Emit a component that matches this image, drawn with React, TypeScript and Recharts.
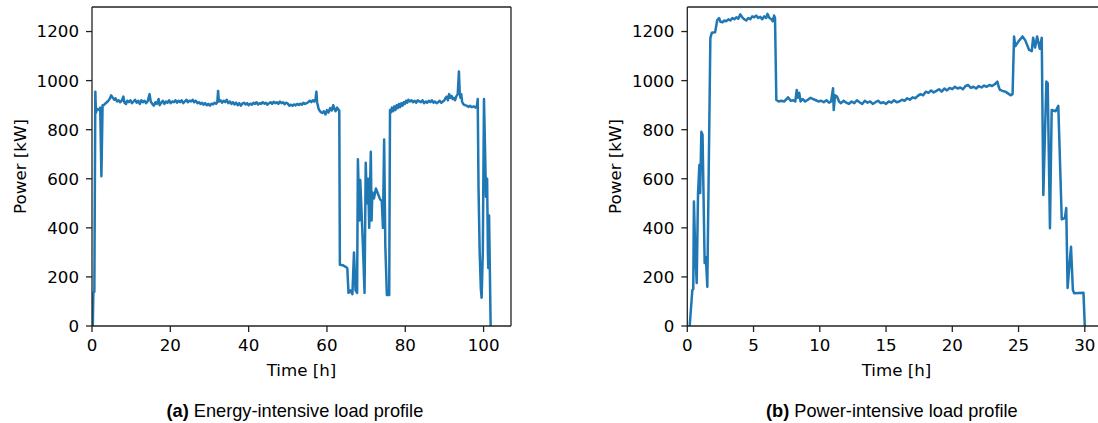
import { Line, LineChart, ReferenceLine, XAxis, YAxis } from "recharts";

// (a) energy-intensive profile: [hours, kW]
const energyProfile: [number, number][] = [
  [0.2, 0], [0.35, 135], [0.6, 140], [0.85, 955], [1.0, 870], [1.3, 885], [1.8, 880], [2.1, 890], [2.4, 610], [2.7, 900],
  [3.0, 900], [3.5, 908], [4.0, 915], [4.5, 925], [4.9, 940], [5.3, 930], [5.7, 922], [6.0, 928], [6.4, 915], [6.8, 920],
  [7.2, 912], [7.6, 918], [8.0, 935], [8.3, 910], [8.7, 905], [9.0, 918], [9.4, 912], [9.8, 920], [10.2, 908], [10.6, 915],
  [11.0, 922], [11.4, 910], [11.8, 918], [12.2, 905], [12.6, 920], [13.0, 912], [13.4, 918], [13.8, 908], [14.2, 915], [14.7, 945],
  [15.0, 915], [15.4, 905], [15.8, 898], [16.2, 912], [16.6, 905], [17.0, 925], [17.3, 900], [17.7, 910], [18.1, 918], [18.5, 905],
  [18.9, 915], [19.3, 910], [19.7, 920], [20.1, 908], [20.5, 915], [20.9, 912], [21.3, 920], [21.7, 910], [22.1, 918], [22.5, 912],
  [22.9, 920], [23.3, 908], [23.7, 915], [24.1, 922], [24.5, 912], [24.9, 918], [25.3, 915], [25.7, 922], [26.1, 912], [26.5, 918],
  [26.9, 908], [27.3, 912], [27.7, 905], [28.1, 910], [28.5, 902], [28.9, 908], [29.3, 900], [29.7, 905], [30.1, 898], [30.5, 906],
  [30.9, 903], [31.3, 910], [31.7, 906], [32.0, 912], [32.2, 958], [32.4, 915], [32.8, 920], [33.2, 910], [33.6, 918], [34.0, 912],
  [34.4, 922], [34.8, 908], [35.2, 915], [35.6, 905], [36.0, 912], [36.4, 903], [36.8, 910], [37.2, 900], [37.6, 908], [38.0, 898],
  [38.4, 906], [38.8, 910], [39.2, 903], [39.6, 908], [40.0, 900], [40.4, 906], [40.8, 902], [41.2, 910], [41.6, 905], [42.0, 912],
  [42.4, 903], [42.8, 908], [43.2, 905], [43.6, 912], [44.0, 906], [44.4, 910], [44.8, 902], [45.2, 908], [45.6, 912], [46.0, 905],
  [46.4, 914], [46.8, 908], [47.2, 912], [47.6, 905], [48.0, 915], [48.4, 908], [48.8, 912], [49.2, 904], [49.6, 910], [50.0, 906],
  [50.4, 898], [50.8, 902], [51.2, 897], [51.6, 903], [52.0, 899], [52.4, 905], [52.8, 901], [53.2, 906], [53.6, 902], [54.0, 910],
  [54.4, 905], [54.8, 908], [55.2, 912], [55.6, 918], [56.0, 912], [56.4, 920], [56.8, 915], [57.1, 925], [57.3, 955], [57.5, 910],
  [57.8, 890], [58.0, 880], [58.4, 872], [58.8, 868], [59.2, 875], [59.6, 862], [60.0, 880], [60.4, 870], [60.8, 888], [61.2, 878],
  [61.6, 900], [61.9, 885], [62.2, 875], [62.6, 890], [63.0, 880], [63.15, 878], [63.3, 250], [64.0, 248], [64.9, 240], [65.2, 236],
  [65.5, 135], [66.0, 145], [66.5, 130], [66.9, 300], [67.3, 145], [67.7, 135], [67.9, 680], [68.3, 430], [68.5, 595], [68.8, 480],
  [69.2, 320], [69.6, 135], [69.9, 665], [70.2, 500], [70.5, 600], [70.8, 400], [71.2, 710], [71.4, 430], [71.6, 545], [72.0, 520],
  [72.5, 560], [73.0, 540], [73.6, 515], [74.0, 510], [74.3, 400], [74.6, 760], [74.9, 330], [75.3, 126], [75.9, 126], [76.1, 880],
  [76.3, 870], [76.6, 890], [76.9, 875], [77.2, 895], [77.5, 880], [77.8, 900], [78.1, 888], [78.4, 905], [78.7, 892], [79.0, 908],
  [79.3, 898], [79.6, 912], [79.9, 905], [80.2, 918], [80.5, 910], [80.8, 922], [81.2, 915], [81.6, 920], [82.0, 912], [82.4, 918],
  [82.8, 910], [83.2, 920], [83.6, 915], [84.0, 912], [84.4, 920], [84.8, 908], [85.2, 915], [85.6, 910], [86.0, 918], [86.4, 912],
  [86.8, 920], [87.2, 910], [87.6, 915], [88.0, 908], [88.4, 912], [88.8, 918], [89.2, 910], [89.6, 915], [90.0, 920], [90.3, 930],
  [90.6, 935], [90.9, 920], [91.2, 945], [91.5, 930], [91.8, 938], [92.1, 925], [92.4, 930], [92.7, 920], [93.0, 935], [93.4, 945],
  [93.7, 1037], [93.9, 950], [94.1, 930], [94.3, 945], [94.5, 915], [94.8, 905], [95.2, 900], [95.7, 898], [96.1, 893], [96.5, 897],
  [97.0, 892], [97.5, 895], [97.9, 890], [98.3, 897], [98.5, 925], [98.7, 570], [99.0, 300], [99.3, 150], [99.5, 115], [99.8, 300],
  [100.1, 925], [100.4, 700], [100.6, 527], [100.9, 600], [101.1, 300], [101.2, 236], [101.4, 450], [101.8, 0],
];

// (b) power-intensive profile: [hours, kW]
const powerProfile: [number, number][] = [
  [0.18, 0], [0.38, 147], [0.45, 150], [0.5, 507], [0.6, 300], [0.71, 175], [0.81, 542], [0.91, 656], [0.97, 542], [1.06, 792],
  [1.15, 780], [1.31, 257], [1.4, 280], [1.51, 160], [1.74, 1173], [1.85, 1195], [2.1, 1197], [2.26, 1247], [2.4, 1255], [2.5, 1240],
  [2.65, 1238], [2.8, 1245], [2.95, 1242], [3.1, 1250], [3.25, 1245], [3.4, 1255], [3.55, 1250], [3.7, 1258], [3.85, 1252], [4.0, 1270],
  [4.15, 1258], [4.3, 1250], [4.45, 1245], [4.6, 1255], [4.75, 1250], [4.9, 1262], [5.05, 1258], [5.2, 1265], [5.35, 1255], [5.5, 1260],
  [5.65, 1250], [5.8, 1262], [5.95, 1255], [6.05, 1272], [6.2, 1255], [6.35, 1250], [6.45, 1242], [6.55, 1265], [6.62, 1255], [6.72, 921],
  [6.9, 915], [7.1, 918], [7.3, 915], [7.5, 925], [7.6, 932], [7.8, 918], [8.0, 920], [8.15, 915], [8.26, 962], [8.35, 930],
  [8.45, 950], [8.55, 915], [8.7, 925], [8.9, 915], [9.1, 922], [9.3, 930], [9.5, 925], [9.7, 920], [9.9, 915], [10.1, 918],
  [10.3, 912], [10.5, 920], [10.7, 910], [10.85, 915], [11.0, 969], [11.05, 880], [11.15, 940], [11.3, 935], [11.45, 915], [11.6, 908],
  [11.8, 918], [12.0, 910], [12.2, 905], [12.4, 915], [12.6, 908], [12.8, 920], [13.0, 912], [13.2, 905], [13.4, 918], [13.6, 910],
  [13.8, 915], [14.0, 905], [14.2, 912], [14.4, 918], [14.6, 908], [14.8, 912], [15.0, 905], [15.2, 915], [15.4, 910], [15.6, 920],
  [15.8, 912], [16.0, 915], [16.2, 922], [16.4, 918], [16.6, 928], [16.8, 922], [17.0, 932], [17.2, 928], [17.4, 938], [17.6, 945],
  [17.8, 940], [18.0, 955], [18.2, 950], [18.4, 960], [18.6, 952], [18.8, 958], [19.0, 965], [19.2, 955], [19.4, 968], [19.6, 960],
  [19.8, 970], [20.0, 965], [20.2, 975], [20.4, 968], [20.6, 972], [20.8, 965], [21.0, 978], [21.2, 982], [21.4, 970], [21.6, 975],
  [21.8, 968], [22.0, 978], [22.2, 972], [22.4, 980], [22.6, 975], [22.8, 982], [23.0, 978], [23.2, 985], [23.4, 996], [23.5, 975],
  [23.6, 962], [23.8, 958], [24.0, 955], [24.2, 948], [24.4, 940], [24.55, 945], [24.66, 1180], [24.75, 1140], [25.0, 1160], [25.3, 1180],
  [25.5, 1165], [25.8, 1125], [26.0, 1120], [26.1, 1175], [26.25, 1135], [26.4, 1180], [26.6, 1130], [26.75, 1175], [26.87, 534], [27.1, 996],
  [27.2, 990], [27.37, 398], [27.5, 880], [27.8, 875], [28.0, 897], [28.26, 435], [28.5, 440], [28.6, 481], [28.7, 155], [28.96, 323],
  [29.1, 147], [29.2, 133], [29.9, 135], [30.0, 0],
];

const powerTicks = [0, 200, 400, 600, 800, 1000, 1200];
const energyTimeTicks = [0, 20, 40, 60, 80, 100];
const powerTimeTicks = [0, 5, 10, 15, 20, 25, 30];

const BLUE = "#1f77b4";
const SPINE = "#222";
const Y_MAX = 1300;
const tickFont = { fill: "#000", fontSize: 16.67, fontFamily: "DejaVu Sans" };

const toRows = (profile: [number, number][]) => profile.map(([t, p]) => ({ t, p }));

type PanelProps = {
  data: { t: number; p: number }[];
  xMax: number;
  xTicks: number[];
  left: number;
  width: number;
  yAxisWidth: number;
};

function Panel({ data, xMax, xTicks, left, width, yAxisWidth }: PanelProps) {
  return (
    <div style={{ position: "absolute", left, top: 0 }}>
      <LineChart width={width} height={423} data={data} margin={{ top: 7, right: 9, bottom: 67, left: 0 }}>
        <XAxis
          dataKey="t"
          type="number"
          domain={[0, xMax]}
          ticks={xTicks}
          allowDataOverflow
          height={30}
          stroke={SPINE}
          strokeWidth={1.3}
          tickSize={6}
          tickMargin={7}
          tick={tickFont}
        />
        <YAxis
          type="number"
          domain={[0, Y_MAX]}
          ticks={powerTicks}
          allowDataOverflow
          width={yAxisWidth}
          stroke={SPINE}
          strokeWidth={1.3}
          tickSize={6}
          tickMargin={7}
          tick={tickFont}
        />
        {/* top and right spines */}
        <ReferenceLine y={Y_MAX} stroke={SPINE} strokeWidth={1.3} />
        <ReferenceLine x={xMax} stroke={SPINE} strokeWidth={1.3} />
        <Line
          type="linear"
          dataKey="p"
          stroke={BLUE}
          strokeWidth={2.5}
          strokeLinejoin="round"
          dot={false}
          isAnimationActive={false}
        />
      </LineChart>
    </div>
  );
}

export default function App() {
  const labelFont = { fontFamily: "DejaVu Sans", fontSize: 16.67, fill: "#000" };
  const captionFont = { fontFamily: "Liberation Sans, Arial, sans-serif", fontSize: 18.2, fill: "#000" };
  return (
    <div
      style={{
        position: "fixed",
        left: 0,
        top: 0,
        width: 1098,
        height: 423,
        overflow: "hidden",
        background: "#fff",
      }}
    >
      <Panel data={toRows(energyProfile)} xMax={107} xTicks={energyTimeTicks} left={0} width={520} yAxisWidth={92} />
      <Panel data={toRows(powerProfile)} xMax={31.6} xTicks={powerTimeTicks} left={600} width={515} yAxisWidth={87.3} />
      <svg width={1098} height={423} style={{ position: "absolute", left: 0, top: 0, pointerEvents: "none" }}>
        <text transform="translate(26,166.5) rotate(-90)" textAnchor="middle" {...labelFont}>
          Power [kW]
        </text>
        <text transform="translate(621,166.5) rotate(-90)" textAnchor="middle" {...labelFont}>
          Power [kW]
        </text>
        <text x={301.5} y={375.5} textAnchor="middle" {...labelFont}>
          Time [h]
        </text>
        <text x={896.5} y={375.5} textAnchor="middle" {...labelFont}>
          Time [h]
        </text>
        <text x={166.5} y={417} {...captionFont}>
          <tspan fontWeight="bold">(a)</tspan> Energy-intensive load profile
        </text>
        <text x={766} y={417} {...captionFont}>
          <tspan fontWeight="bold">(b)</tspan> Power-intensive load profile
        </text>
      </svg>
    </div>
  );
}
